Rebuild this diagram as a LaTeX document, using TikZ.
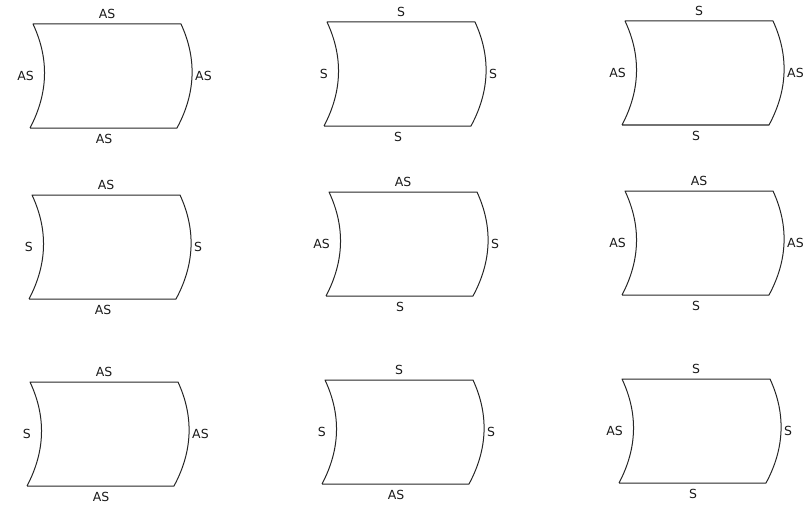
\documentclass[tikz,border=0pt]{standalone}
\usepackage{fontspec}
\setmainfont{DejaVu Sans}

\tikzset{
    tileline/.style={line width=1pt, draw=black!85, line join=round},
    lbl/.style={inner sep=0pt, font=\fontsize{12.5}{12.5}\selectfont, text=black!90}
}

% #1 name, #2 lower left corner, #3 top, #4 right, #5 bottom, #6 left
\newcommand\tile[6]{%
    \begin{scope}[shift={#2}]
        \draw[tileline] (0,0) -- (147,0) .. controls (165.7,-34.7) and (167,-69.3) .. (151,-104)
            -- (3,-104) .. controls (19.3,-69.3) and (18.3,-34.7) .. (0,0);
        \node[lbl] (#1-top) at (77,-114) {#3};
        \node[lbl, anchor=west] (#1-right) at (165,-52) {#4};
        \node[lbl] (#1-bottom) at (74,11) {#5};
        \node[lbl, anchor=east] (#1-left) at (4,-52) {#6};
    \end{scope}}

\begin{document}
\begin{tikzpicture}[x=1pt, y=-1pt]
    
    \useasboundingbox (0,0) rectangle (805,508);
    
    \tile{t11}{(30,128)}{AS}{AS}{AS}{AS}
    \tile{t12}{(324,126)}{S}{S}{S}{S}
    \tile{t13}{(622,125)}{S}{AS}{S}{AS}
    
    \tile{t21}{(29,299)}{AS}{S}{AS}{S}
    \tile{t22}{(326,296)}{AS}{S}{S}{AS}
    \tile{t23}{(622,295)}{AS}{AS}{S}{AS}
    
    \tile{t31}{(27,486)}{AS}{AS}{AS}{S}
    \tile{t32}{(322,484)}{S}{S}{AS}{S}
    \tile{t33}{(619,483)}{S}{S}{S}{AS}
    
\end{tikzpicture}
\end{document}
